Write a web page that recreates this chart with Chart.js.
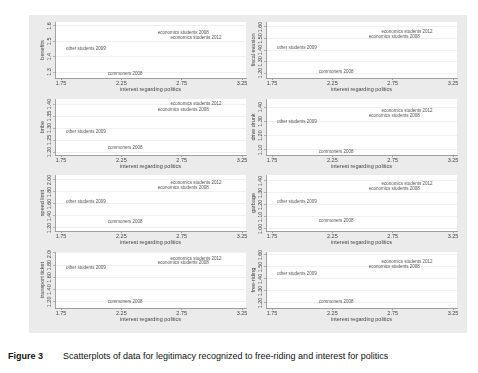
<!DOCTYPE html>
<html>
<head>
<meta charset="utf-8">
<script src="https://cdn.jsdelivr.net/npm/chart.js@4"></script>
<style>
  html, body { margin: 0; padding: 0; background: #fff; }
  body { width: 478px; height: 373px; position: relative; overflow: hidden; font-family: 'Liberation Sans', Arial, sans-serif; }
  #panel { position: absolute; left: 29px; top: 15px; width: 438px; height: 318px; background: #ebebeb; }
  canvas.plot { position: absolute; }
  #caption { position: absolute; left: 8px; top: 351px; font-size: 9px; line-height: 11px; color: #111; white-space: nowrap; }
  #caption b { display: inline-block; width: 55px; }
</style>
</head>
<body>
<div id="panel"></div>
<canvas class="plot" id="c1" width="216" height="76" style="left:33px;top:20px"></canvas>
<canvas class="plot" id="c2" width="216" height="76" style="left:244px;top:20px"></canvas>
<canvas class="plot" id="c3" width="216" height="76" style="left:33px;top:97px"></canvas>
<canvas class="plot" id="c4" width="216" height="76" style="left:244px;top:97px"></canvas>
<canvas class="plot" id="c5" width="216" height="76" style="left:33px;top:173px"></canvas>
<canvas class="plot" id="c6" width="216" height="76" style="left:244px;top:173px"></canvas>
<canvas class="plot" id="c7" width="216" height="76" style="left:33px;top:250px"></canvas>
<canvas class="plot" id="c8" width="216" height="76" style="left:244px;top:250px"></canvas>
<div id="caption"><b>Figure 3</b>Scatterplots of data for legitimacy recognized to free-riding and interest for politics</div>

<script>
'use strict';

// 1. DATA
// groups, in the same order in every series
const GROUPS   = ['economics students 2008', 'economics students 2012', 'other students 2009', 'commoners 2008'];
// interest regarding politics (x)
const INTEREST = [2.535, 2.64, 1.775, 2.12];
const X_TICKS  = [1.75, 2.25, 2.75, 3.25];

// legitimacy recognized (y), one array per behaviour
const BENEFITS   = [1.553, 1.52, 1.453, 1.287];
const FISCAL     = [1.513, 1.557, 1.417, 1.21];
const BRIBE      = [1.375, 1.40, 1.283, 1.217];
const DRUNK      = [1.337, 1.372, 1.295, 1.09];
const SPEED      = [1.867, 1.95, 1.633, 1.30];
const GARBAGE    = [1.333, 1.375, 1.225, 1.067];
const TRANSPORT  = [1.84, 1.90, 1.75, 1.20];
const FREERIDING = [1.50, 1.542, 1.442, 1.208];

// y tick labels
const T_BENEFITS   = ['1.3', '1.4', '1.5', '1.6'];
const T_FISCAL     = ['1.20', '1.30', '1.40', '1.50', '1.60'];
const T_BRIBE      = ['1.20', '1.25', '1.30', '1.35', '1.40'];
const T_DRUNK      = ['1.10', '1.20', '1.30', '1.40'];
const T_SPEED      = ['1.20', '1.40', '1.60', '1.80', '2.00'];
const T_GARBAGE    = ['1.00', '1.10', '1.20', '1.30', '1.40'];
const T_TRANSPORT  = ['1.20', '1.40', '1.60', '1.80', '2.00'];
const T_FREERIDING = ['1.20', '1.30', '1.40', '1.50', '1.60'];


// 2. PLOT LIST
const PLOTS = [
  { id: 'c1', title: 'benefits',         data: BENEFITS,   ticks: T_BENEFITS,   min: 1.261, max: 1.626 },
  { id: 'c2', title: 'fiscal evasion',   data: FISCAL,     ticks: T_FISCAL,     min: 1.157, max: 1.643 },
  { id: 'c3', title: 'bribe',            data: BRIBE,      ticks: T_BRIBE,      min: 1.1875, max: 1.421 },
  { id: 'c4', title: 'drive drunk',      data: DRUNK,      ticks: T_DRUNK,      min: 1.065, max: 1.456 },
  { id: 'c5', title: 'speed limit',      data: SPEED,      ticks: T_SPEED,      min: 1.15, max: 2.083 },
  { id: 'c6', title: 'garbage',          data: GARBAGE,    ticks: T_GARBAGE,    min: 0.983, max: 1.45 },
  { id: 'c7', title: 'transport ticket', data: TRANSPORT,  ticks: T_TRANSPORT,  min: 1.10, max: 2.016 },
  { id: 'c8', title: 'free-riding',      data: FREERIDING, ticks: T_FREERIDING, min: 1.158, max: 1.625 },
];

const FONT = "'Liberation Sans', Arial, sans-serif";
const AXIS_GREY = '#8a8a8a';


// 3. PLUGIN: white plot region, marker labels, vertical y tick labels
const stataLook = {
  id: 'stataLook',
  beforeDraw(chart) {
    const { ctx, chartArea: a } = chart;
    ctx.save();
    ctx.fillStyle = '#ffffff';
    ctx.fillRect(a.left, a.top, a.right - a.left, a.bottom - a.top);
    ctx.restore();
  },
  afterDatasetsDraw(chart) {
    const { ctx } = chart;
    const meta = chart.getDatasetMeta(0);
    ctx.save();
    ctx.font = `4.5px ${FONT}`;
    ctx.fillStyle = '#555';
    ctx.textAlign = 'left';
    ctx.textBaseline = 'middle';
    meta.data.forEach((pt, i) => ctx.fillText(GROUPS[i], pt.x + 2, pt.y));
    ctx.restore();
  },
  afterDraw(chart) {
    const { ctx, chartArea: a } = chart;
    const y = chart.scales.y;
    const plot = chart.options.plugins.stataLook;
    ctx.save();
    ctx.fillStyle = '#444';
    ctx.textAlign = 'center';
    ctx.textBaseline = 'middle';
    ctx.font = `5.5px ${FONT}`;
    plot.ticks.forEach((t) => {
      ctx.save();
      ctx.translate(a.left - 6, y.getPixelForValue(parseFloat(t)));
      ctx.rotate(-Math.PI / 2);
      ctx.fillText(t, 0, 0);
      ctx.restore();
    });
    ctx.font = `5.5px ${FONT}`;
    ctx.translate(a.left - 12.5, (a.top + a.bottom) / 2);
    ctx.rotate(-Math.PI / 2);
    ctx.fillText(plot.title, 0, 0);
    ctx.restore();
  },
};


// 4. CHARTS
PLOTS.forEach((p) => {
  new Chart(document.getElementById(p.id), {
    type: 'scatter',
    data: {
      datasets: [{
        data: INTEREST.map((x, i) => ({ x, y: p.data[i] })),
        pointRadius: 0,
        pointHoverRadius: 0,
      }],
    },
    options: {
      responsive: false,
      animation: false,
      events: [],
      layout: { padding: { left: 22, right: 3, top: 2, bottom: 0 } },
      plugins: {
        legend: { display: false },
        tooltip: { enabled: false },
        stataLook: { title: p.title, ticks: p.ticks },
      },
      scales: {
        x: {
          type: 'linear',
          min: 1.70,
          max: 3.283,
          afterBuildTicks: (s) => { s.ticks = X_TICKS.map((v) => ({ value: v })); },
          afterFit: (s) => { s.height = 18; },
          grid: { drawOnChartArea: false, tickLength: 2, tickColor: AXIS_GREY, lineWidth: 0.8 },
          border: { color: AXIS_GREY, width: 0.8 },
          ticks: {
            padding: 0,
            maxRotation: 0,
            color: '#444',
            font: { family: FONT, size: 5.5 },
            callback: (v) => Number(v).toFixed(2),
          },
          title: {
            display: true,
            text: 'interest regarding politics',
            color: '#444',
            font: { family: FONT, size: 5.5 },
            padding: { top: 0, bottom: 3 },
          },
        },
        y: {
          type: 'linear',
          min: p.min,
          max: p.max,
          afterBuildTicks: (s) => { s.ticks = p.ticks.map((t) => ({ value: parseFloat(t) })); },
          afterFit: (s) => { s.width = 0; },
          grid: { color: '#e4e4e4', lineWidth: 0.6, tickLength: 2, tickColor: AXIS_GREY },
          border: { color: AXIS_GREY, width: 0.8 },
          ticks: { display: false },
        },
      },
    },
    plugins: [stataLook],
  });
});
</script>
</body>
</html>
